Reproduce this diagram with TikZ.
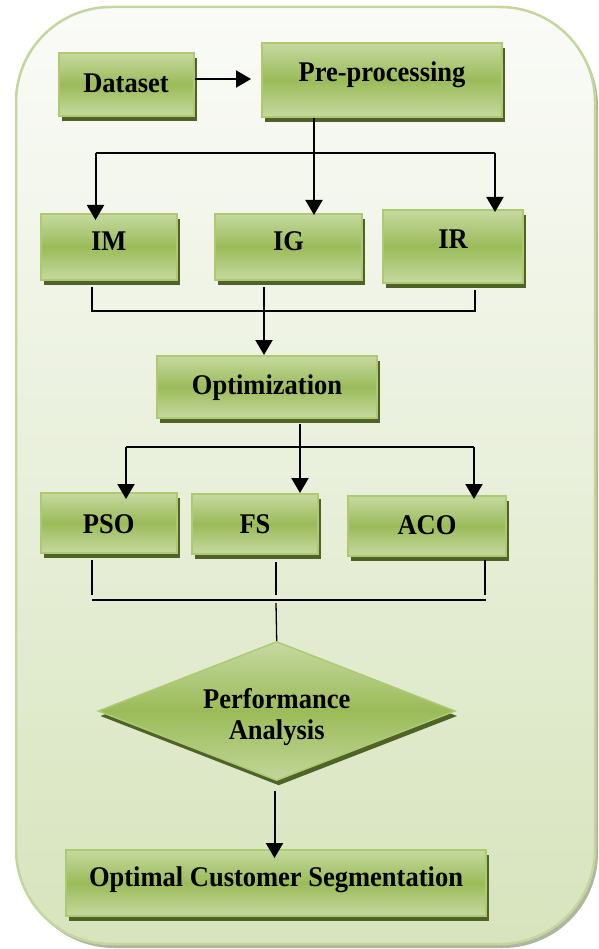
\documentclass[tikz,border=0pt]{standalone}
\usepackage{fontspec}
\setmainfont{Liberation Serif}[FakeStretch=0.93]
\usetikzlibrary{shapes.geometric,arrows.meta,shadows}
\definecolor{gmid}{HTML}{9BBB59}
\definecolor{glight}{HTML}{C6D9A0}
\definecolor{gborder}{HTML}{ADCA71}
\definecolor{gshadow}{HTML}{4F6228}
\definecolor{otop}{HTML}{FAFBF8}
\definecolor{obot}{HTML}{D7E4BD}
\definecolor{oborder}{HTML}{C3D69B}
\definecolor{oshadow}{HTML}{AEB5A2}
\newcommand{\rz}[2]{\raisebox{#1}[\height][\depth]{#2}}
\tikzset{
  box/.style={rectangle, draw=gborder, line width=2pt,
    top color=glight, bottom color=glight, middle color=gmid,
    font=\fontsize{28.5}{31}\selectfont\bfseries, inner sep=0pt,
    drop shadow={shadow xshift=3pt, shadow yshift=-5pt, fill=gshadow, opacity=1}},
  dia/.style={diamond, draw=gborder, line width=1.5pt,
    top color=glight, bottom color=glight!90!gmid, middle color=gmid,
    font=\fontsize{28.5}{31}\selectfont\bfseries, inner sep=0pt,
    drop shadow={shadow xshift=2pt, shadow yshift=-5pt, fill=gshadow, opacity=1}},
  arr/.style={line width=2pt, -{Triangle[width=17pt,length=15pt]}},
  ln/.style={line width=1.3pt}
}
\begin{document}
\begin{tikzpicture}[x=1pt,y=-1pt]
\useasboundingbox (0,0) rectangle (598,949);
% outer frame
\fill[oshadow, rounded corners=95pt] (19,11) rectangle (598,948);
\draw[draw=oborder, line width=2.5pt, top color=otop, bottom color=obot, rounded corners=95pt] (16,7) rectangle (595,944);

% nodes
\node[box, minimum width=135pt, minimum height=63pt] (ds) at (126,84.5) {\rz{1pt}{Dataset}};
\node[box, minimum width=240pt, minimum height=74pt] (pre) at (382,80) {\rz{5pt}{Pre-processing}};
\node[box, minimum width=135.5pt, minimum height=66pt] (im) at (108.75,247) {\rz{6pt}{IM}};
\node[box, minimum width=147pt, minimum height=66pt] (ig) at (288.5,247) {\rz{6pt}{IG}};
\node[box, minimum width=140pt, minimum height=73pt] (ir) at (453,246.5) {\rz{7.5pt}{IR}};
\node[box, minimum width=220.5pt, minimum height=62pt] (opt) at (267,387) {\rz{-1pt}{Optimization}};
\node[box, minimum width=135.5pt, minimum height=60pt] (pso) at (108.75,523) {\rz{-1pt}{PSO}};
\node[box, minimum width=125.5pt, minimum height=60pt] (fs) at (255,524) {\rz{0pt}{FS}};
\node[box, minimum width=158pt, minimum height=60pt] (aco) at (427,526) {\rz{1pt}{ACO}};
\node[dia, aspect=2.57, minimum width=357pt, minimum height=139pt] (pa) at (276.7,711)
  {\rz{-6.5pt}{\begin{tabular}{@{}c@{}}Performance\\Analysis\end{tabular}}};
\node[box, minimum width=420pt, minimum height=66pt] (ocs) at (276,883) {\rz{3pt}{Optimal Customer Segmentation}};

% connector coordinates
\coordinate (a1) at (251,79);
\coordinate (j1) at (314,153);
\coordinate (j1l) at (95.5,153);
\coordinate (j1r) at (495,153);
\coordinate (c1) at (92,311);
\coordinate (c2) at (475,311);
\coordinate (c3) at (264,311);
\coordinate (d1) at (300,447);
\coordinate (d1l) at (126,447);
\coordinate (d1r) at (474,447);
\coordinate (e1) at (92,595);
\coordinate (e2) at (276,595);
\coordinate (e3) at (485,595);
\coordinate (h1) at (92,600);
\coordinate (h2) at (486,600);
\coordinate (h3) at (276,603);
\coordinate (f1) at (274.5,791);

% connectors
\draw[arr] (ds.east |- a1) -- (a1);
\draw[ln] (pre.south -| j1) -- (j1);
\draw[ln] (j1l) -- (j1r);
\draw[arr] (j1l) -- ([yshift=-7pt]im.north -| j1l);
\draw[arr] (j1) -- ([yshift=-2pt]ig.north -| j1);
\draw[arr] (j1r) -- ([yshift=-3pt]ir.north -| j1r);

\draw[ln] ([yshift=-6pt]im.south -| c1) -- (c1) -- (c2) -- ([yshift=-6pt]ir.south -| c2);
\draw[arr] ([yshift=-6pt]ig.south -| c3) -- (opt.north -| c3);

\draw[ln] ([yshift=-5pt]opt.south -| d1) -- (d1);
\draw[ln] (d1l) -- (d1r);
\draw[arr] (d1l) -- ([yshift=-7pt]pso.north -| d1l);
\draw[arr] (d1) -- (fs.north -| d1);
\draw[arr] (d1r) -- ([yshift=-4pt]aco.north -| d1r);

\draw[ln] ([yshift=-6pt]pso.south -| e1) -- (e1);
\draw[ln] ([yshift=-7pt]fs.south -| e2) -- (e2);
\draw[ln] ([yshift=-3pt]aco.south -| e3) -- (e3);
\draw[ln] (h1) -- (h2);
\draw[ln] (h3) -- (pa.north);

\draw[arr] (f1) -- ([yshift=-9pt]ocs.north -| f1);
\end{tikzpicture}
\end{document}
